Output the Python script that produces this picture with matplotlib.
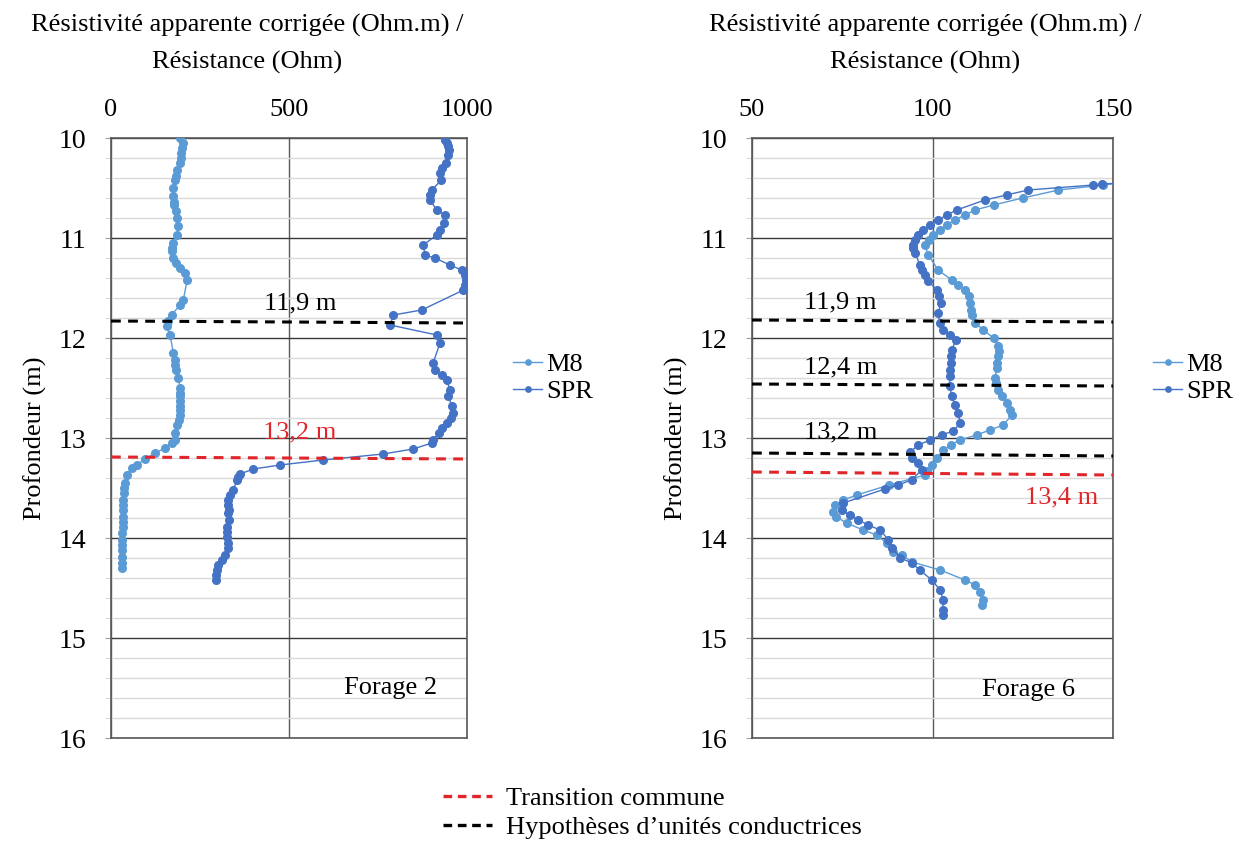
import matplotlib
matplotlib.use("Agg")
import matplotlib.pyplot as plt
from matplotlib.lines import Line2D
import numpy as np

plt.rcParams["font.family"] = ["Liberation Serif", "DejaVu Serif"]

# ---- Forage 2 (profondeur en m, valeurs) ----
F2_M8_DEPTH = [10.00, 10.05, 10.10, 10.15, 10.20, 10.25, 10.32, 10.38, 10.42, 10.50,
               10.58, 10.64, 10.67, 10.73, 10.80, 10.88, 10.97, 11.05, 11.10, 11.13,
               11.20, 11.25, 11.30, 11.35, 11.42, 11.62, 11.67, 11.77, 11.83, 11.88,
               11.97, 12.15, 12.22, 12.27, 12.32, 12.40, 12.50, 12.55, 12.58, 12.63,
               12.68, 12.72, 12.77, 12.82, 12.87, 12.95, 13.02, 13.05, 13.10, 13.15,
               13.21, 13.27, 13.30, 13.37, 13.45, 13.50, 13.55, 13.62, 13.67, 13.72,
               13.79, 13.84, 13.89, 13.95, 14.02, 14.07, 14.12, 14.19, 14.25, 14.30]
F2_M8_VAL = [194, 201, 200, 198, 196, 194, 186, 182, 180, 175,
             175, 176, 177, 183, 186, 189, 184, 173, 170, 170,
             173, 183, 194, 208, 214, 203, 194, 170, 161, 156,
             166, 175, 180, 181, 183, 189, 194, 194, 194, 194,
             194, 194, 194, 190, 186, 180, 180, 170, 152, 124,
             96, 72, 58, 44, 39, 37, 36, 35, 34, 33,
             33, 33, 33, 32, 30, 30, 30, 30, 30, 30]

F2_SPR_DEPTH = [10.02, 10.05, 10.08, 10.12, 10.17, 10.25, 10.30, 10.35, 10.42, 10.52,
                10.57, 10.62, 10.72, 10.77, 10.85, 10.92, 10.97, 11.07, 11.17, 11.20,
                11.27, 11.32, 11.37, 11.42, 11.47, 11.52, 11.72, 11.77, 11.87, 11.97,
                12.05, 12.25, 12.32, 12.37, 12.42, 12.52, 12.58, 12.68, 12.75, 12.80,
                12.85, 12.90, 12.95, 13.02, 13.05, 13.11, 13.16, 13.22, 13.27, 13.31,
                13.36, 13.39, 13.42, 13.52, 13.57, 13.62, 13.67, 13.72, 13.75, 13.82,
                13.89, 13.94, 13.99, 14.05, 14.10, 14.17, 14.22, 14.27, 14.32, 14.37,
                14.42]
F2_SPR_VAL = [938, 945, 948, 950, 948, 940, 929, 925, 928, 901,
              896, 896, 915, 938, 934, 924, 915, 877, 882, 910,
              952, 985, 994, 997, 994, 990, 873, 793, 784, 915,
              924, 905, 910, 929, 943, 952, 948, 957, 962, 955,
              943, 930, 920, 905, 901, 849, 764, 596, 475, 400,
              362, 358, 353, 344, 334, 330, 330, 331, 330, 332,
              327, 326, 325, 328, 330, 320, 311, 301, 297, 296,
              295]

# ---- Forage 6 ----
F6_M8_DEPTH = [10.45, 10.47, 10.52, 10.60, 10.67, 10.72, 10.77, 10.82, 10.87, 10.92,
               10.97, 11.02, 11.07, 11.17, 11.32, 11.42, 11.47, 11.52, 11.58, 11.65,
               11.72, 11.77, 11.85, 11.92, 12.00, 12.08, 12.13, 12.18, 12.25, 12.30,
               12.40, 12.45, 12.52, 12.58, 12.65, 12.72, 12.77, 12.87, 12.92, 12.97,
               13.02, 13.07, 13.12, 13.20, 13.27, 13.33, 13.37, 13.47, 13.57, 13.62,
               13.67, 13.74, 13.79, 13.85, 13.92, 13.97, 14.05, 14.14, 14.17, 14.24,
               14.32, 14.42, 14.47, 14.54, 14.62, 14.67]
F6_M8_VAL = [152, 147.3, 134.9, 125.0, 116.9, 111.8, 109.0, 106.2, 103.9, 102.1,
             100.2, 99.0, 97.9, 98.8, 101.6, 105.3, 107.2, 109.0, 110.0, 110.4,
             110.7, 110.9, 111.8, 114.1, 116.9, 118.2, 118.3, 118.2, 118.0, 117.8,
             117.3, 117.6, 118.2, 119.3, 120.5, 121.5, 122.0, 119.6, 115.9, 112.2,
             107.6, 105.0, 103.0, 101.2, 99.8, 98.5, 97.9, 88.0, 79.0, 75.3,
             73.0, 72.5, 73.4, 76.2, 80.8, 84.5, 87.3, 89.1, 91.5, 94.3,
             102.1, 109.0, 111.8, 113.2, 114.1, 113.7]

F6_SPR_DEPTH = [10.45, 10.46, 10.47, 10.52, 10.57, 10.62, 10.72, 10.77, 10.82, 10.87,
                10.92, 10.97, 11.02, 11.07, 11.10, 11.15, 11.27, 11.32, 11.37, 11.43,
                11.52, 11.58, 11.65, 11.75, 11.85, 11.92, 11.97, 12.02, 12.12, 12.18,
                12.25, 12.32, 12.38, 12.48, 12.58, 12.67, 12.75, 12.85, 12.93, 12.97,
                13.02, 13.07, 13.14, 13.20, 13.25, 13.32, 13.42, 13.47, 13.51, 13.65,
                13.72, 13.77, 13.82, 13.87, 13.92, 14.02, 14.10, 14.20, 14.25, 14.32,
                14.42, 14.52, 14.62, 14.72, 14.77]
F6_SPR_VAL = [152, 147.0, 144.5, 126.5, 120.5, 114.5, 106.7, 103.9, 101.6, 99.3,
              97.5, 96.1, 95.2, 94.5, 94.6, 95.2, 96.5, 97.2, 98.0, 98.8,
              101.2, 101.9, 102.3, 101.6, 102.0, 103.0, 104.8, 106.5, 105.3, 105.1,
              105.0, 104.9, 104.8, 104.8, 105.3, 106.2, 107.2, 107.6, 105.8, 102.5,
              99.3, 96.1, 93.8, 94.3, 96.1, 97.0, 94.2, 90.5, 86.8, 75.3,
              74.8, 77.1, 79.5, 82.2, 85.5, 87.8, 88.8, 91.1, 94.3, 96.5,
              99.8, 102.1, 103.0, 102.8, 102.8]

# limites repères (profondeur gauche -> droite)
F2_BLACK = [(11.83, 11.85)]
F2_RED = [(13.19, 13.21)]
F6_BLACK = [(11.82, 11.84), (12.46, 12.48), (13.15, 13.18)]
F6_RED = [(13.34, 13.37)]

C_M8 = "#5B9BD5"
C_SPR = "#4472C4"
C_RED = "#E0262B"
FS = 19


def panel(ax, xlim, xticks, m8, spr, black, red, labels, forage, leg_x):
    ax.set_xlim(*xlim)
    ax.set_ylim(16, 10)
    ax.xaxis.tick_top()
    ax.set_xticks(xticks)
    ax.set_yticks(np.arange(10, 17, 1))
    ax.set_yticks(np.arange(10, 16.01, 0.2), minor=True)
    ax.tick_params(axis="x", length=0, pad=12, labelsize=FS)
    ax.tick_params(axis="y", which="major", length=4, color="#A0A0A0",
                   pad=14, labelsize=20)
    ax.tick_params(axis="y", which="minor", length=4, color="#D0D0D0")
    ax.grid(axis="y", which="minor", color="#D9D9D9", lw=1.0, zorder=0)
    ax.grid(axis="y", which="major", color="#3a3a3a", lw=1.0, zorder=0)
    ax.grid(axis="x", which="major", color="#595959", lw=1.0, zorder=0)
    for s in ax.spines.values():
        s.set_color("#595959")
        s.set_linewidth(1.2)
    ax.set_ylabel("Profondeur (m)", fontsize=FS, labelpad=8)

    ax.plot(m8[1], m8[0], "-o", color=C_M8, ms=5.5, lw=1.0, label="M8", zorder=3)
    ax.plot(spr[1], spr[0], "-o", color=C_SPR, ms=5.5, lw=1.0, label="SPR", zorder=3)

    x0, x1 = xlim
    for d0, d1 in black:
        ax.plot([x0, x1], [d0, d1], color="black", lw=2.2, dashes=(3.2, 2.4), zorder=4)
    for d0, d1 in red:
        ax.plot([x0, x1], [d0, d1], color=C_RED, lw=2.2, dashes=(3.2, 2.4), zorder=4)

    for (x, y, t, c) in labels:
        ax.text(x, y, t, fontsize=FS, color=c, ha="center", va="center", zorder=5)
    ax.text(forage[0], forage[1], forage[2], fontsize=FS, ha="center",
            va="center", zorder=5)

    ax.legend(loc="center left", bbox_to_anchor=(leg_x, 0.6), frameon=False,
              fontsize=FS, handlelength=1.1, handletextpad=0.15,
              labelspacing=0.12, markerscale=0.7, borderpad=0, borderaxespad=0)


fig = plt.figure(figsize=(12.47, 8.52), dpi=100, facecolor="white")
ax1 = fig.add_axes([111 / 1247, 1 - 738 / 852, 356 / 1247, 600 / 852])
ax2 = fig.add_axes([752 / 1247, 1 - 738 / 852, 361 / 1247, 600 / 852])

panel(ax1, (0, 1000), [0, 500, 1000],
      (F2_M8_DEPTH, F2_M8_VAL), (F2_SPR_DEPTH, F2_SPR_VAL),
      F2_BLACK, F2_RED,
      [(531, 11.65, "11,9 m", "black"), (531, 12.94, "13,2 m", C_RED)],
      (784, 15.5, "Forage 2"), (513 - 111) / 356)
panel(ax2, (50, 150), [50, 100, 150],
      (F6_M8_DEPTH, F6_M8_VAL), (F6_SPR_DEPTH, F6_SPR_VAL),
      F6_BLACK, F6_RED,
      [(74.4, 11.64, "11,9 m", "black"), (74.6, 12.29, "12,4 m", "black"),
       (74.6, 12.94, "13,2 m", "black"), (135.9, 13.59, "13,4 m", C_RED)],
      (126.5, 15.52, "Forage 6"), (1153 - 752) / 361)

title = "Résistivité apparente corrigée (Ohm.m) /\nRésistance (Ohm)"
fig.text(247 / 1247, 1 - 44 / 852, title, ha="center", va="center",
         fontsize=FS, linespacing=1.75)
fig.text(925 / 1247, 1 - 44 / 852, title, ha="center", va="center",
         fontsize=FS, linespacing=1.75)

handles = [Line2D([], [], color=C_RED, lw=2.4, dashes=(2.6, 1.7)),
           Line2D([], [], color="black", lw=2.4, dashes=(2.6, 1.7))]
fig.legend(handles, ["Transition commune", "Hypothèses d’unités conductrices"],
           loc="upper left", bbox_to_anchor=(443 / 1247, 1 - 787 / 852),
           frameon=False, fontsize=FS, handlelength=1.85, handletextpad=0.55,
           labelspacing=0.2, borderpad=0, borderaxespad=0)

fig.savefig("out.png", dpi=100, facecolor="white")
